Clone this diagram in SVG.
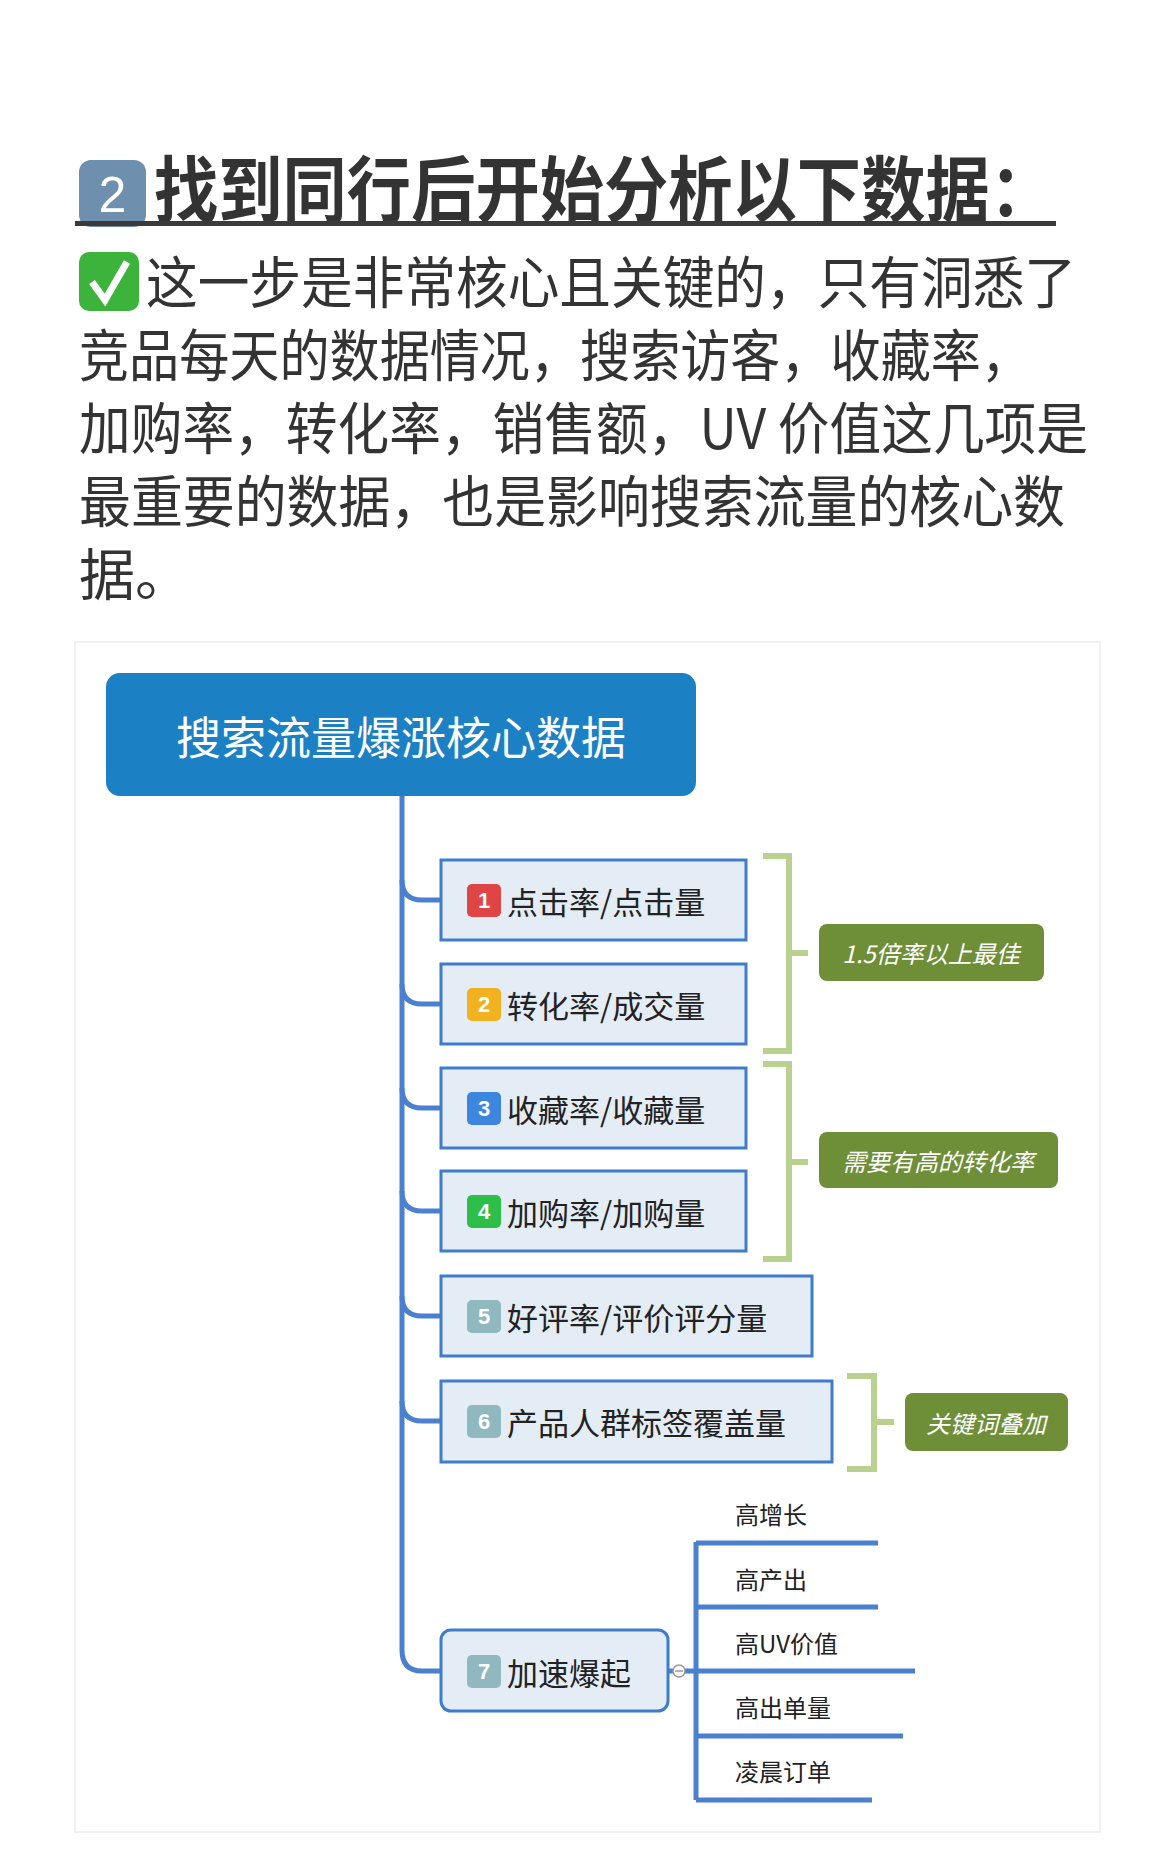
<svg xmlns="http://www.w3.org/2000/svg" width="1170" height="1863" viewBox="0 0 1170 1863">
<style>
.h{font-family:"Noto Sans CJK SC","Liberation Sans",sans-serif;}
.body{font-family:"Noto Sans CJK SC",sans-serif;font-size:56px;fill:#333;}
.node rect.b{fill:#e4ecf6;stroke:#3f7ccc;stroke-width:3;}
.nt{font-family:"Noto Sans CJK SC",sans-serif;font-size:31px;fill:#222;dominant-baseline:central;}
.bn{font-family:"Liberation Sans",sans-serif;font-size:22px;font-weight:bold;fill:#fff;text-anchor:middle;dominant-baseline:central;}
.lab rect{fill:#6e8e38;}
.lt{font-family:"Noto Sans CJK SC",sans-serif;font-size:24px;font-style:italic;fill:#fff;text-anchor:middle;dominant-baseline:central;}
.br{fill:none;stroke:#b9d08e;stroke-width:6;}
.cn{fill:none;stroke:#4a80cf;stroke-width:5;}
.st{font-family:"Noto Sans CJK SC",sans-serif;font-size:24px;fill:#222;dominant-baseline:central;}
</style>
<rect width="1170" height="1863" fill="#fff"/>
<g id="heading">
<rect x="79" y="160" width="67" height="67" rx="12" fill="#6f8fae"/>
<text x="112.5" y="195" class="bn" style="font-size:50px;font-weight:normal">2</text>
<text x="154" y="216" class="h" font-size="72" font-weight="bold" fill="#333" textLength="900" lengthAdjust="spacingAndGlyphs">找到同行后开始分析以下数据：</text>
<rect x="75" y="221" width="981" height="5" fill="#3a3a3a"/>
</g>
<g id="paragraph">
<rect x="79" y="252" width="60" height="59" rx="10" fill="#3cb43c"/>
<polyline points="92,282 105,300 127,262" fill="none" stroke="#fff" stroke-width="7"/>
<text x="146" y="303" class="body" textLength="930" lengthAdjust="spacingAndGlyphs">这一步是非常核心且关键的，只有洞悉了</text>
<text x="79" y="376" class="body" textLength="952" lengthAdjust="spacingAndGlyphs">竞品每天的数据情况，搜索访客，收藏率，</text>
<text x="79" y="449" class="body" textLength="1009" lengthAdjust="spacingAndGlyphs">加购率，转化率，销售额，UV 价值这几项是</text>
<text x="79" y="522" class="body" textLength="986" lengthAdjust="spacingAndGlyphs">最重要的数据，也是影响搜索流量的核心数</text>
<text x="79" y="595" class="body">据。</text>
</g>
<rect x="75" y="642" width="1025" height="1190" fill="#fff" stroke="#ececec" stroke-width="1.5"/>
<g id="connectors">
<path class="cn" d="M402,796 V1650 Q402,1671 422,1671 H441"/>
<path class="cn" d="M402,880 Q402,900 422,900 H441"/>
<path class="cn" d="M402,984 Q402,1004 422,1004 H441"/>
<path class="cn" d="M402,1088 Q402,1108 422,1108 H441"/>
<path class="cn" d="M402,1191 Q402,1211 422,1211 H441"/>
<path class="cn" d="M402,1296 Q402,1316 422,1316 H441"/>
<path class="cn" d="M402,1401 Q402,1421 422,1421 H441"/>
<path class="cn" d="M668,1671 H696 M696,1542 V1800 M696,1543 H878 M696,1607 H878 M696,1671 H915 M696,1736 H903 M696,1800 H872"/>
<circle cx="679" cy="1671" r="6" fill="#fff" stroke="#999" stroke-width="1.5"/>
<line x1="675" y1="1671" x2="683" y2="1671" stroke="#999" stroke-width="1.5"/>
<path class="br" d="M763,856 H789 V1051 H763 M789,953 H808"/>
<path class="br" d="M763,1064 H789 V1259 H763 M789,1162 H808"/>
<path class="br" d="M847,1376 H874 V1469 H847 M874,1422 H894"/>
</g>
<g id="root">
<rect x="106" y="673" width="590" height="123" rx="14" fill="#1b80c4"/>
<text x="401" y="735" class="h" font-size="45" fill="#fff" text-anchor="middle" dominant-baseline="central">搜索流量爆涨核心数据</text>
</g>
<g id="n1" class="node"><rect class="b" x="441" y="860" width="305" height="80"/><rect x="467" y="884" width="34" height="33" rx="5" fill="#e04545"/><text class="bn" x="484" y="900">1</text><text class="nt" x="507" y="900">点击率/点击量</text></g>
<g id="n2" class="node"><rect class="b" x="441" y="964" width="305" height="80"/><rect x="467" y="988" width="34" height="33" rx="5" fill="#f2b11e"/><text class="bn" x="484" y="1004">2</text><text class="nt" x="507" y="1004">转化率/成交量</text></g>
<g id="n3" class="node"><rect class="b" x="441" y="1068" width="305" height="80"/><rect x="467" y="1092" width="34" height="33" rx="5" fill="#3d86e0"/><text class="bn" x="484" y="1108">3</text><text class="nt" x="507" y="1108">收藏率/收藏量</text></g>
<g id="n4" class="node"><rect class="b" x="441" y="1171" width="305" height="80"/><rect x="467" y="1195" width="34" height="33" rx="5" fill="#2dbf4a"/><text class="bn" x="484" y="1211">4</text><text class="nt" x="507" y="1211">加购率/加购量</text></g>
<g id="n5" class="node"><rect class="b" x="441" y="1276" width="371" height="80"/><rect x="467" y="1300" width="34" height="33" rx="5" fill="#8fb8bf"/><text class="bn" x="484" y="1316">5</text><text class="nt" x="507" y="1316">好评率/评价评分量</text></g>
<g id="n6" class="node"><rect class="b" x="441" y="1381" width="391" height="81"/><rect x="467" y="1405" width="34" height="33" rx="5" fill="#8fb8bf"/><text class="bn" x="484" y="1421">6</text><text class="nt" x="507" y="1421">产品人群标签覆盖量</text></g>
<g id="n7" class="node"><rect class="b" x="441" y="1630" width="227" height="81" rx="10"/><rect x="467" y="1655" width="34" height="33" rx="5" fill="#8fb8bf"/><text class="bn" x="484" y="1671">7</text><text class="nt" x="507" y="1671">加速爆起</text></g>
<g id="l1" class="lab"><rect x="819" y="924" width="225" height="57" rx="8"/><text class="lt" x="931" y="952">1.5倍率以上最佳</text></g>
<g id="l2" class="lab"><rect x="819" y="1132" width="239" height="56" rx="8"/><text class="lt" x="938" y="1160">需要有高的转化率</text></g>
<g id="l3" class="lab"><rect x="905" y="1393" width="163" height="58" rx="8"/><text class="lt" x="986" y="1422">关键词叠加</text></g>
<g id="subs">
<text class="st" x="735" y="1513">高增长</text>
<text class="st" x="735" y="1578">高产出</text>
<text class="st" x="735" y="1642">高UV价值</text>
<text class="st" x="735" y="1706">高出单量</text>
<text class="st" x="735" y="1770">凌晨订单</text>
</g>
</svg>
